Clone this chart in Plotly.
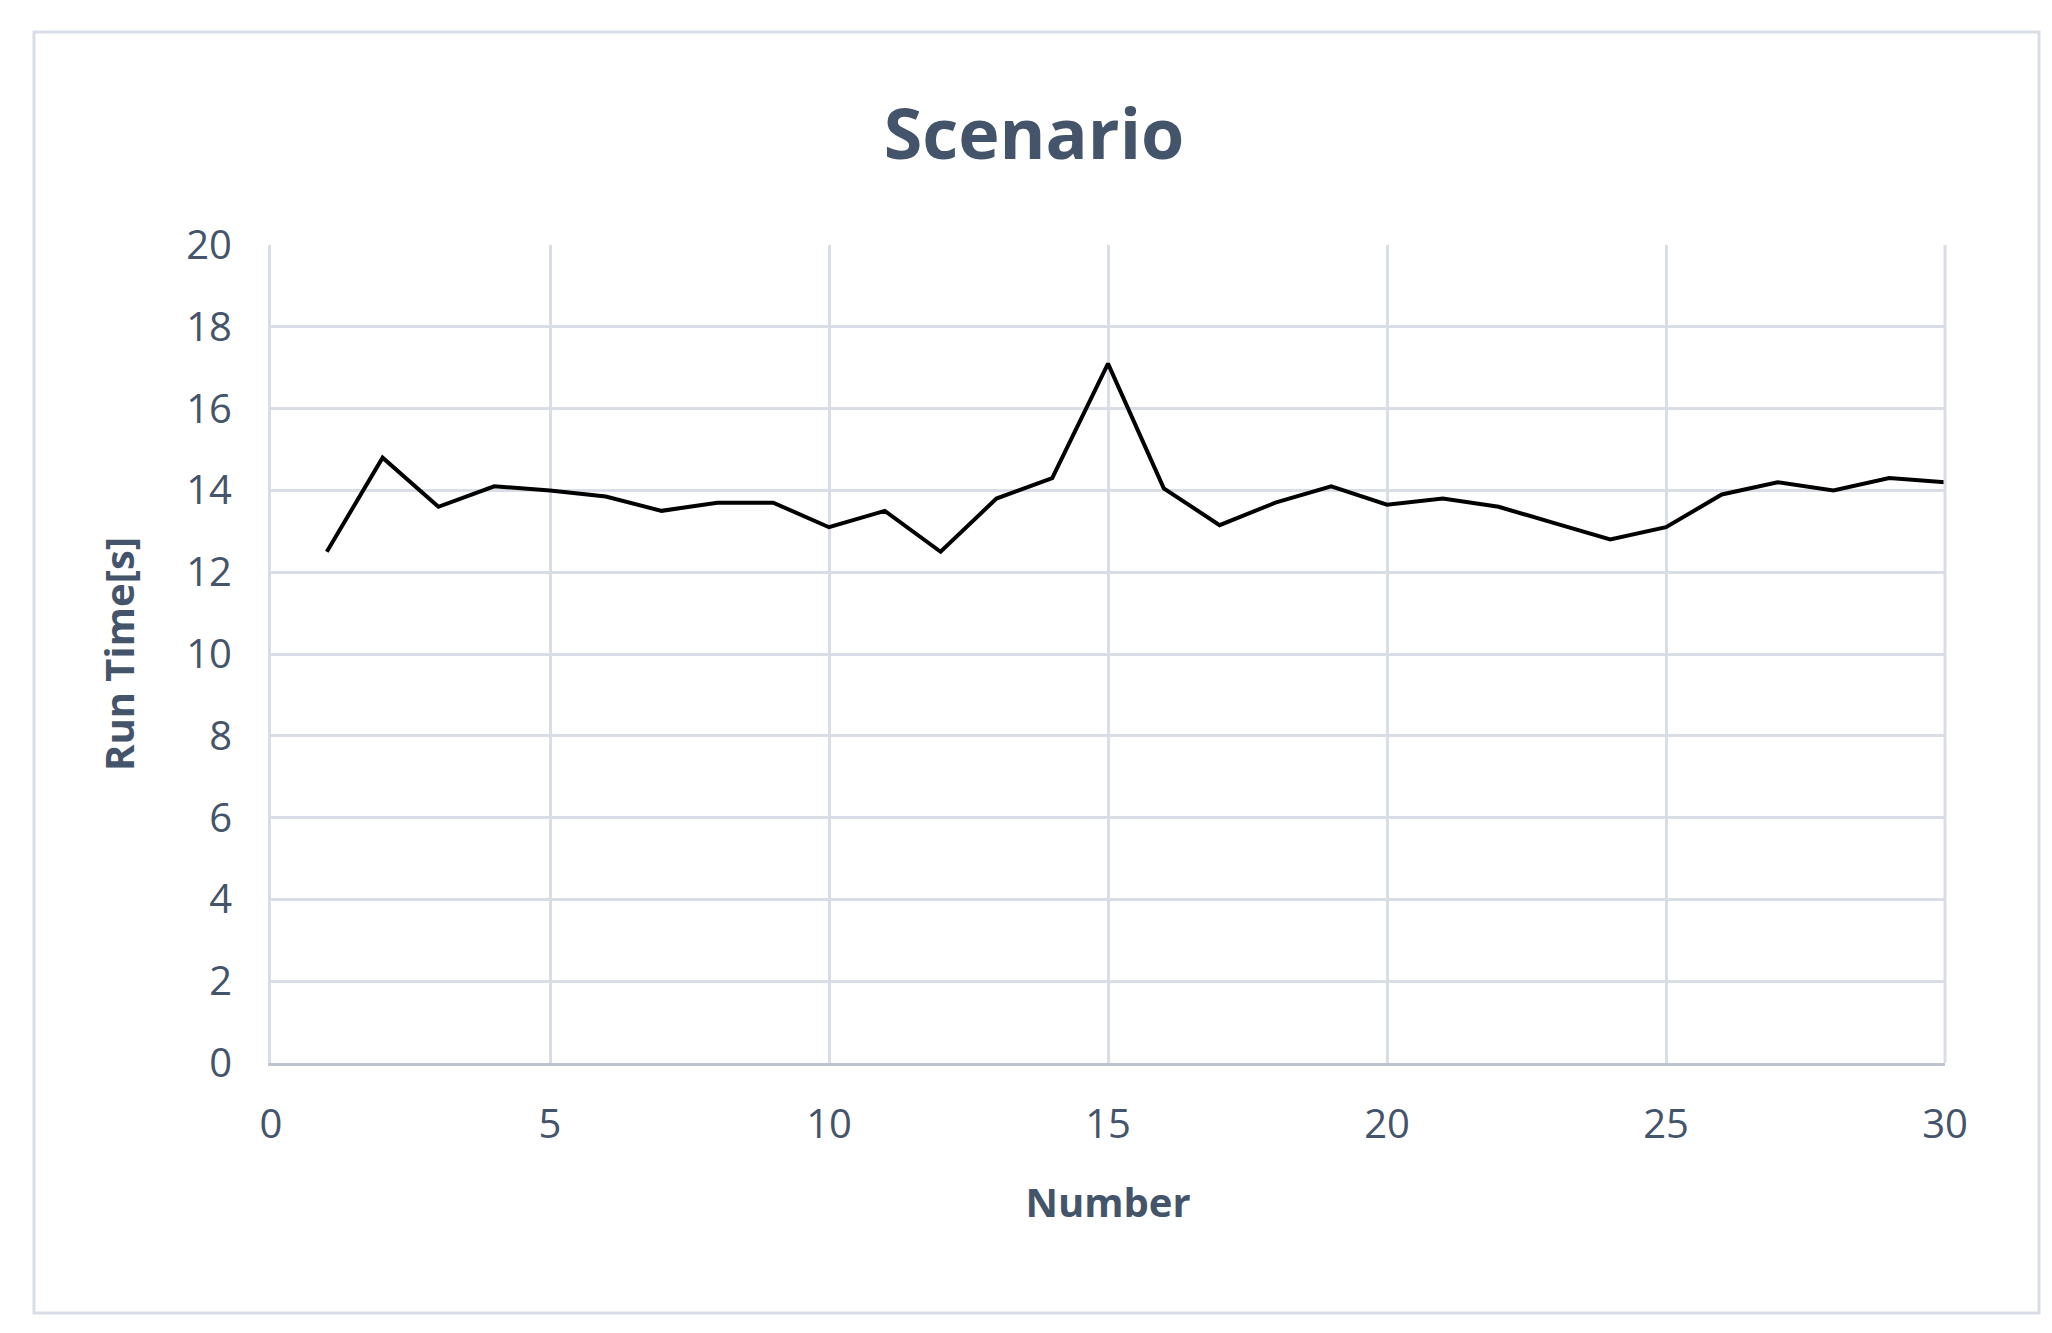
import plotly.graph_objects as go

numbers = list(range(1, 31))
run_time = [12.5, 14.8, 13.6, 14.1, 14.0, 13.85, 13.5, 13.7, 13.7, 13.1,
            13.5, 12.5, 13.8, 14.3, 17.1, 14.05, 13.15, 13.7, 14.1, 13.65,
            13.8, 13.6, 13.2, 12.8, 13.1, 13.9, 14.2, 14.0, 14.3, 14.2]

txt = "#44546A"
fig = go.Figure(go.Scatter(x=numbers, y=run_time, mode="lines",
                           line=dict(color="black", width=4)))
fig.update_layout(
    width=2052, height=1333, paper_bgcolor="white", plot_bgcolor="white",
    margin=dict(l=263, r=115, t=237, b=278),
    font=dict(family="Open Sans, Noto Sans, sans-serif", color=txt, size=40),
    title=dict(text="<b>Scenario</b>", x=0.5, xanchor="center", y=0.905,
               yanchor="middle", font=dict(size=70, color=txt)),
    showlegend=False,
    shapes=[dict(type="rect", xref="paper", yref="paper",
                 x0=-237/1674, x1=1+94/1674, y0=-250/818, y1=1+213/818,
                 line=dict(color="#D9DEE6", width=3))],
)
fig.update_xaxes(range=[0, 30], dtick=5, showgrid=True, gridcolor="#D9DEE6",
                 gridwidth=3, zeroline=False, showline=True, linecolor="#BFC5CE",
                 linewidth=3, ticks="", ticklabelstandoff=24,
                 title=dict(text="<b>Number</b>", font=dict(size=40, color=txt), standoff=40))
fig.update_yaxes(range=[0, 20], dtick=2, showgrid=True, gridcolor="#D9DEE6",
                 gridwidth=3, zeroline=False, showline=True, linecolor="#D9DEE6",
                 linewidth=3, ticks="", ticklabelstandoff=28,
                 title=dict(text="<b>Run Time[s]</b>", font=dict(size=40, color=txt), standoff=40))
fig.add_shape(type="line", xref="paper", yref="paper", x0=1, x1=1, y0=0, y1=1,
              line=dict(color="#D9DEE6", width=3))
fig.write_html("out.html")
